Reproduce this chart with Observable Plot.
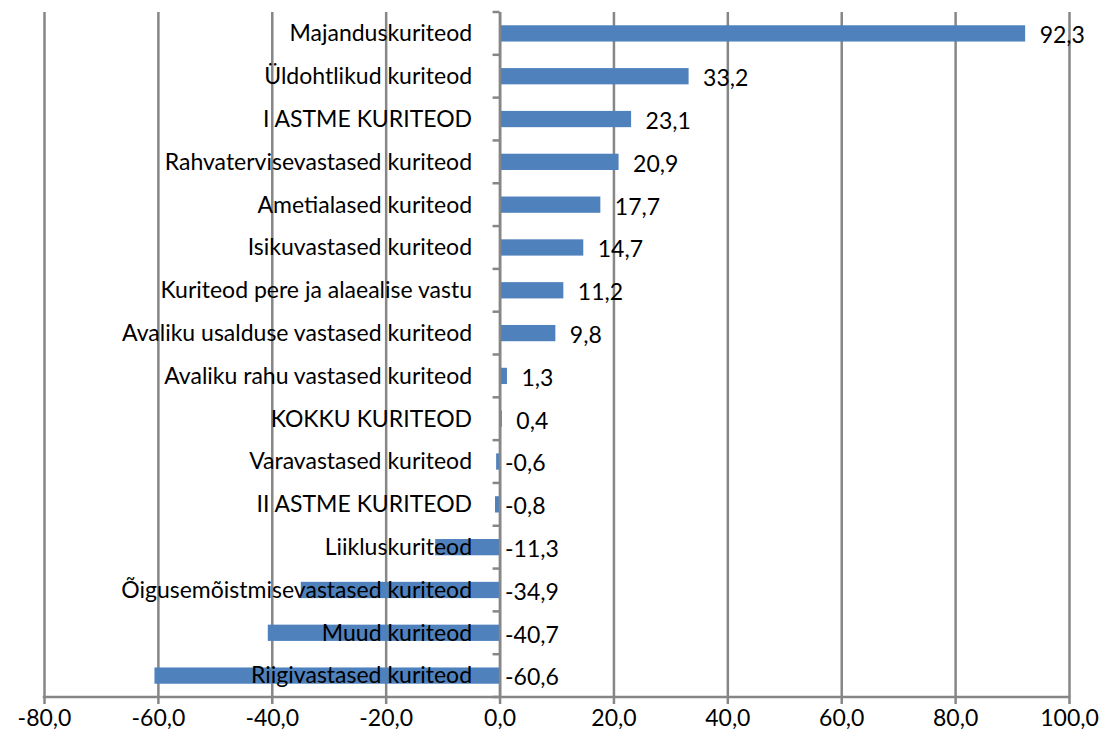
<!DOCTYPE html>
<html>
<head>
<meta charset="utf-8">
<script src="https://cdn.jsdelivr.net/npm/d3@7"></script>
<script src="https://cdn.jsdelivr.net/npm/@observablehq/plot@0.6"></script>
<style>
  html, body { margin: 0; padding: 0; background: #ffffff; }
</style>
</head>
<body>
<div id="chart"></div>
<script>
const categories = [
  "Majanduskuriteod",
  "Üldohtlikud kuriteod",
  "I ASTME KURITEOD",
  "Rahvatervisevastased kuriteod",
  "Ametialased kuriteod",
  "Isikuvastased kuriteod",
  "Kuriteod pere ja alaealise vastu",
  "Avaliku usalduse vastased kuriteod",
  "Avaliku rahu vastased kuriteod",
  "KOKKU KURITEOD",
  "Varavastased kuriteod",
  "II ASTME KURITEOD",
  "Liikluskuriteod",
  "Õigusemõistmisevastased kuriteod",
  "Muud kuriteod",
  "Riigivastased kuriteod"
];
const values = [92.3, 33.2, 23.1, 20.9, 17.7, 14.7, 11.2, 9.8, 1.3, 0.4, -0.6, -0.8, -11.3, -34.9, -40.7, -60.6];
const xTicks = [-80, -60, -40, -20, 0, 20, 40, 60, 80, 100];

const data = categories.map((c, i) => ({category: c, value: values[i]}));
const fmt = d => d.toFixed(1).replace(".", ",");
const gray = "#868686";

// zero axis with tick marks at the category boundaries, and the bottom axis line
function axisLines(index, scales, values, dims) {
  const x = scales.x;
  const top = dims.marginTop, bottom = dims.height - dims.marginBottom;
  const step = (bottom - top) / categories.length;
  const g = d3.create("svg:g").attr("stroke", gray).attr("stroke-width", 2.5).attr("fill", "none");
  const x0 = x(0);
  for (let k = 0; k <= categories.length; k++) {
    const yy = top + k * step;
    g.append("line").attr("x1", x0 - 7).attr("x2", x0).attr("y1", yy).attr("y2", yy);
  }
  g.append("line")
    .attr("x1", x(xTicks[0]) - 1.25).attr("x2", x(xTicks[xTicks.length - 1]) + 1.25)
    .attr("y1", bottom).attr("y2", bottom);
  return g.node();
}

const chart = Plot.plot({
  width: 1101,
  height: 751,
  marginTop: 12,
  marginBottom: 54,
  marginLeft: 44,
  marginRight: 32,
  x: {domain: [-80, 100], label: null},
  y: {domain: categories, paddingInner: 0.62, paddingOuter: 0.31, round: false, axis: null},
  style: {fontFamily: "Lato, 'Open Sans', sans-serif", fontSize: "23px", color: "#000", background: "#fff"},
  marks: [
    Plot.ruleX(xTicks, {stroke: gray, strokeWidth: 2.5}),
    Plot.barX(data, {x: "value", y: "category", fill: "#4F81BD"}),
    Plot.ruleX([0], {stroke: gray, strokeWidth: 2.5}),
    axisLines,
    Plot.axisX({ticks: xTicks, tickFormat: fmt, tickSize: 7, tickPadding: 5, stroke: gray, strokeWidth: 2.5, fontSize: 23, label: null}),
    Plot.text(data, {x: () => 0, y: "category", text: "category", textAnchor: "end", dx: -28, fill: "#000"}),
    Plot.text(data.filter(d => d.value >= 0), {x: "value", y: "category", text: d => fmt(d.value), textAnchor: "start", dx: 14, dy: 2, fill: "#000"}),
    Plot.text(data.filter(d => d.value < 0), {x: () => 0, y: "category", text: d => fmt(d.value), textAnchor: "start", dx: 5, dy: 2, fill: "#000"})
  ]
});
document.getElementById("chart").appendChild(chart);
</script>
</body>
</html>
